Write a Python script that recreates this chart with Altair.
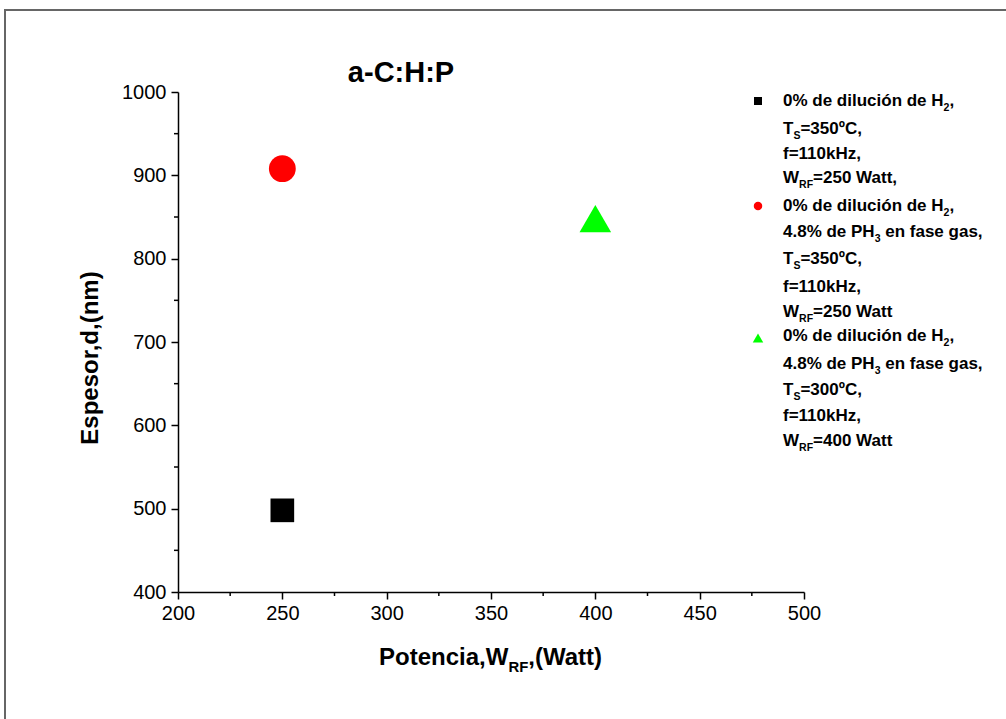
import altair as alt
import pandas as pd

# ---------------- data ----------------
series = ["sq", "ci", "tr"]
potencia = [250, 250, 400]          # W_RF (Watt)
espesor = [498, 908, 848]           # d (nm)
shapes = ["square", "circle", "triangle-up"]
colors = ["#000000", "#ff0000", "#00ff00"]
marker_sizes = [560, 720, 1000]

x_major = [200, 250, 300, 350, 400, 450, 500]
x_minor = [225, 275, 325, 375, 425, 475]
y_major = [400, 500, 600, 700, 800, 900, 1000]
y_minor = [450, 550, 650, 750, 850, 950]

title_text = "a-C:H:P"
y_title = "Espesor,d,(nm)"
x_title = [("Potencia,W", 0), ("RF", 1), (",(Watt)", 0)]

legend_lines = [
    [("0% de dilución de H", 0), ("2", 1), (",", 0)],
    [("T", 0), ("S", 1), ("=350ºC,", 0)],
    [("f=110kHz,", 0)],
    [("W", 0), ("RF", 1), ("=250 Watt,", 0)],
    [("0% de dilución de H", 0), ("2", 1), (",", 0)],
    [("4.8% de PH", 0), ("3", 1), (" en fase gas,", 0)],
    [("T", 0), ("S", 1), ("=350ºC,", 0)],
    [("f=110kHz,", 0)],
    [("W", 0), ("RF", 1), ("=250 Watt", 0)],
    [("0% de dilución de H", 0), ("2", 1), (",", 0)],
    [("4.8% de PH", 0), ("3", 1), (" en fase gas,", 0)],
    [("T", 0), ("S", 1), ("=300ºC,", 0)],
    [("f=110kHz,", 0)],
    [("W", 0), ("RF", 1), ("=400 Watt", 0)],
]

# ---------------- layout ----------------
W, H = 626, 500
OX, OY = 178, 92
FONT = "Liberation Sans, Arial, Helvetica, sans-serif"

# Arial/Liberation Sans Bold advance widths (1/1000 em)
AW = {' ': 278, '%': 889, '(': 333, ')': 333, ',': 278, '-': 333, '.': 278,
      ':': 333, '=': 584, 'C': 722, 'E': 667, 'F': 611, 'H': 722, 'P': 667,
      'R': 722, 'S': 667, 'T': 611, 'W': 944, 'a': 556, 'c': 556, 'd': 611,
      'e': 556, 'f': 333, 'g': 611, 'i': 278, 'k': 556, 'l': 278, 'm': 889,
      'n': 611, 'o': 611, 'p': 611, 'r': 389, 's': 556, 't': 333, 'u': 611,
      'z': 500, 'ó': 611, 'º': 365}


def tw(s, fs):
    return sum(AW.get(c, 556) for c in s) / 1000.0 * fs


SUB = 0.62
rows = []


def add_line(segs, x_left, baseline, fs):
    x = x_left
    for t, sub in segs:
        f = fs * SUB if sub else fs
        y = baseline + (0.3 * fs if sub else 0)
        lead = len(t) - len(t.lstrip(" "))
        x += tw(" " * lead, f)
        t2 = t.lstrip(" ")
        rows.append({"text": t2, "px": x - OX, "py": y - OY, "fs": f})
        x += tw(t2, f)


def line_width(segs, fs):
    return sum(tw(t, fs * SUB if s else fs) for t, s in segs)


# title
tfs = 29
add_line([(title_text, 0)], 401 - tw(title_text, tfs) / 2, 82, tfs)
# x-axis title
xfs = 24
add_line(x_title, 491 - line_width(x_title, xfs) / 2, 665, xfs)
# legend
lfs = 17
baselines = [106, 134, 159, 183, 211, 237, 264, 292, 317, 341, 369, 395, 421, 446]
for segs, b in zip(legend_lines, baselines):
    add_line(segs, 783, b, lfs)

text_df = pd.DataFrame(rows)

data = pd.DataFrame({"series": series, "potencia": potencia, "espesor": espesor,
                     "shape": shapes, "color": colors, "size": marker_sizes})

legend_sym = pd.DataFrame({"shape": shapes, "color": colors, "size": [64, 72, 110],
                           "px": [758 - OX] * 3, "py": [101 - OY, 206 - OY, 338 - OY]})

xs = alt.Scale(domain=[200, 500], nice=False, zero=False)
ys = alt.Scale(domain=[400, 1000], nice=False, zero=False)

axis_common = dict(grid=False, domainColor="black", domainWidth=1.5, tickColor="black",
                   tickWidth=1.5, tickSize=7, labelFont=FONT, labelFontSize=20,
                   labelColor="black", title=None, labelFontWeight="normal",
                   format="d", labelFlush=False, labelOverlap=False)

points = alt.Chart(data).mark_point(filled=True, opacity=1, strokeWidth=0).encode(
    x=alt.X("potencia:Q", scale=xs,
            axis=alt.Axis(values=x_major, labelPadding=4, **axis_common)),
    y=alt.Y("espesor:Q", scale=ys,
            axis=alt.Axis(values=y_major, labelPadding=5, **axis_common)),
    shape=alt.Shape("shape:N", scale=None),
    color=alt.Color("color:N", scale=None),
    size=alt.Size("size:Q", scale=None),
)

minor_x = alt.Chart(pd.DataFrame({"v": x_minor})).mark_rule(color="black", strokeWidth=1.5).encode(
    x=alt.X("v:Q", scale=xs), y=alt.value(H), y2=alt.value(H + 4))
minor_y = alt.Chart(pd.DataFrame({"v": y_minor})).mark_rule(color="black", strokeWidth=1.5).encode(
    y=alt.Y("v:Q", scale=ys), x=alt.value(0), x2=alt.value(-4))

texts = alt.Chart(text_df).mark_text(align="left", baseline="alphabetic", font=FONT,
                                     fontWeight="bold", color="black").encode(
    x=alt.X("px:Q", scale=None), y=alt.Y("py:Q", scale=None),
    size=alt.Size("fs:Q", scale=None), text="text:N")

ytitle = alt.Chart(pd.DataFrame({"t": [y_title]})).mark_text(
    align="center", baseline="alphabetic", angle=270, font=FONT, fontWeight="bold",
    fontSize=24, color="black").encode(
    x=alt.value(98 - OX), y=alt.value(358 - OY), text="t:N")

leg = alt.Chart(legend_sym).mark_point(filled=True, opacity=1, strokeWidth=0).encode(
    x=alt.X("px:Q", scale=None), y=alt.Y("py:Q", scale=None),
    shape=alt.Shape("shape:N", scale=None), color=alt.Color("color:N", scale=None),
    size=alt.Size("size:Q", scale=None))

frame = alt.Chart(pd.DataFrame({"a": [0]})).mark_rect(
    fill=None, stroke="#666666", strokeWidth=2).encode(
    x=alt.value(5 - OX), x2=alt.value(1012 - OX), y=alt.value(10 - OY), y2=alt.value(725 - OY))

chart = alt.layer(frame, minor_x, minor_y, points, leg, texts, ytitle).properties(
    width=W, height=H,
    autosize=alt.AutoSizeParams(type="none"),
    padding={"left": OX, "top": OY, "right": 1006 - OX - W, "bottom": 719 - OY - H},
    background="white",
).configure_view(stroke=None)

chart.save("out.html", embed_options={"renderer": "svg", "actions": False})
